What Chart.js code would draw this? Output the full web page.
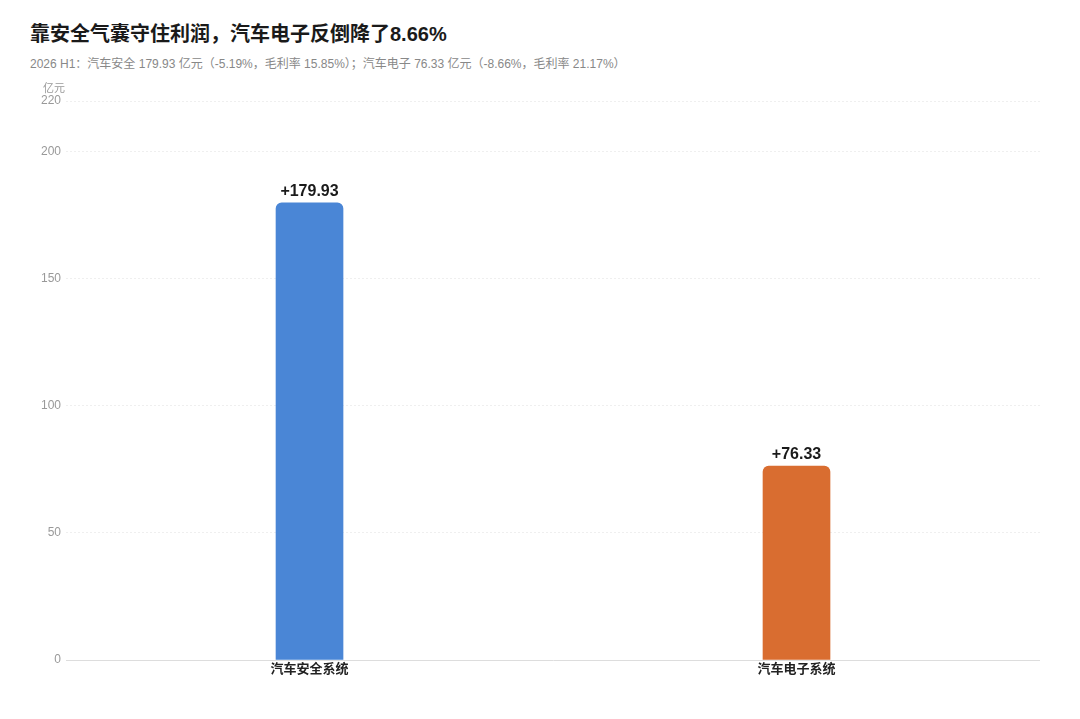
<!DOCTYPE html>
<html>
<head>
<meta charset="utf-8">
<script src="https://cdn.jsdelivr.net/npm/chart.js@4/dist/chart.umd.min.js"></script>
<style>
  body { margin: 0; background: #fff; font-family: "Liberation Sans", "Noto Sans CJK SC", sans-serif; }
  #title { position: absolute; left: 30px; top: 18px; font-size: 20px; font-weight: bold; color: #1a1a1a; }
  #subtitle { position: absolute; left: 30px; top: 54px; font-size: 12px; color: #888; }
  #wrap { position: absolute; left: 20px; top: 80px; width: 1020px; height: 600px; }
</style>
</head>
<body>
<div id="title">靠安全气囊守住利润，汽车电子反倒降了8.66%</div>
<div id="subtitle">2026 H1：汽车安全 179.93 亿元（-5.19%，毛利率 15.85%）；汽车电子 76.33 亿元（-8.66%，毛利率 21.17%）</div>
<div id="wrap"><canvas id="chart"></canvas></div>
<script>
// Revenue by segment, 亿元
const categories = ['汽车安全系统', '汽车电子系统'];
const revenue = [179.93, 76.33];
const barColors = ['#4A86D6', '#D96D30'];
const yTicks = [0, 50, 100, 150, 200, 220];

const FONT = '"Liberation Sans", "Noto Sans CJK SC", sans-serif';

// value labels above each bar
const valueLabels = {
    id: 'valueLabels',
    afterDatasetsDraw(chart) {
        const ctx = chart.ctx;
        const meta = chart.getDatasetMeta(0);
        ctx.save();
        ctx.font = 'bold 16px ' + FONT;
        ctx.fillStyle = '#1a1a1a';
        ctx.textAlign = 'center';
        ctx.textBaseline = 'bottom';
        meta.data.forEach((bar, i) => {
            ctx.fillText('+' + revenue[i].toFixed(2), bar.x, bar.y - 3);
        });
        ctx.restore();
    }
};

// unit caption above the y axis
const unitLabel = {
    id: 'unitLabel',
    afterDraw(chart) {
        const ctx = chart.ctx;
        ctx.save();
        ctx.font = '11px ' + FONT;
        ctx.fillStyle = '#999';
        ctx.textAlign = 'right';
        ctx.textBaseline = 'bottom';
        ctx.fillText('亿元', chart.chartArea.left - 1, chart.chartArea.top - 7);
        ctx.restore();
    }
};

new Chart(document.getElementById('chart'), {
    type: 'bar',
    data: {
        labels: categories,
        datasets: [{
            data: revenue,
            backgroundColor: barColors,
            borderRadius: { topLeft: 6, topRight: 6 },
            borderSkipped: 'bottom',
            barThickness: 67
        }]
    },
    options: {
        responsive: true,
        maintainAspectRatio: false,
        animation: false,
        layout: { padding: { top: 21, right: 0, left: 16, bottom: 0 } },
        plugins: {
            legend: { display: false },
            tooltip: { enabled: false }
        },
        scales: {
            x: {
                afterFit(axis) { axis.height = 20; },
                grid: { display: false },
                border: { color: '#dddddd' },
                ticks: {
                    color: '#222',
                    font: { size: 13, weight: 'bold', family: FONT, lineHeight: 1 },
                    padding: -5
                }
            },
            y: {
                min: 0,
                max: 220,
                afterBuildTicks(axis) {
                    axis.ticks = yTicks.map(v => ({ value: v }));
                },
                grid: { color: '#efefef', lineWidth: 1, drawTicks: false },
                border: { display: false, dash: [2, 2] },
                ticks: {
                    color: '#999',
                    font: { size: 12, family: FONT },
                    padding: 5
                }
            }
        }
    },
    plugins: [valueLabels, unitLabel]
});
</script>
</body>
</html>
